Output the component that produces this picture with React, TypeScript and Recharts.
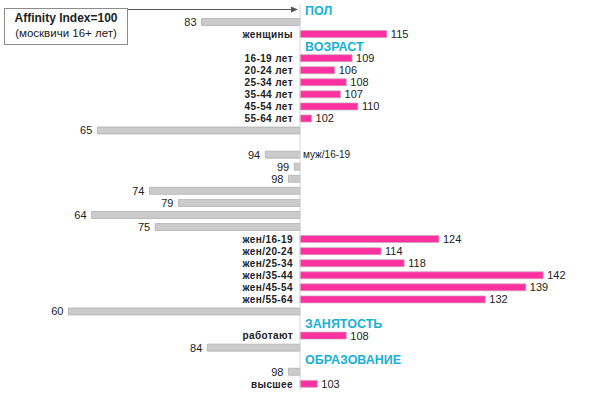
import { Bar, BarChart, Cell, LabelList, ReferenceLine, XAxis, YAxis } from 'recharts';

// one row per line of the chart, top to bottom; null = section header or blank row
const rowNames = [
  'ПОЛ', '', 'женщины',
  'ВОЗРАСТ', '16-19 лет', '20-24 лет', '25-34 лет', '35-44 лет', '45-54 лет', '55-64 лет', '', '',
  'муж/16-19', '', '', '', '', '', '',
  'жен/16-19', 'жен/20-24', 'жен/25-34', 'жен/35-44', 'жен/45-54', 'жен/55-64', '',
  'ЗАНЯТОСТЬ', 'работают', '',
  'ОБРАЗОВАНИЕ', '', 'высшее'
];

const affinity: (number | null)[] = [
  null, 83, 115,
  null, 109, 106, 108, 107, 110, 102, 65, null,
  94, 99, 98, 74, 79, 64, 75,
  124, 114, 118, 142, 139, 132, 60,
  null, 108, 84,
  null, 98, 103
];

const headers = ['ПОЛ', 'ВОЗРАСТ', 'ЗАНЯТОСТЬ', 'ОБРАЗОВАНИЕ'];

const BASE = 100;
const PINK = '#ff30a0';
const GRAY = '#cbcbcb';
const CYAN = '#17b1d3';
const FONT = 'Arial, "Liberation Sans", sans-serif';

const W = 600;
const H = 396;
const Y_AXIS_W = 1;
const MARGIN = { top: 4, right: 10.5, bottom: 6, left: 9.5 };
const DOMAIN: [number, number] = [-50, 50];
// x of the 100 line inside the svg
const PLOT_LEFT = MARGIN.left + Y_AXIS_W;
const PLOT_W = W - PLOT_LEFT - MARGIN.right;
const AXIS_X = PLOT_LEFT + (PLOT_W * (0 - DOMAIN[0])) / (DOMAIN[1] - DOMAIN[0]);

const chartData = rowNames.map((name, i) => ({
  id: i,
  name,
  value: affinity[i],
  delta: affinity[i] == null ? 0 : (affinity[i] as number) - BASE
}));

type LabelProps = {
  x?: number;
  y?: number;
  width?: number;
  height?: number;
  value?: number;
};

function ValueLabel(props: LabelProps) {
  const row = chartData[Number(props.value)];
  if (!row || row.value == null) return null;
  const x = Number(props.x) || 0;
  const w = Number(props.width) || 0;
  const left = Math.min(x, x + w);
  const right = Math.max(x, x + w);
  const cy = (Number(props.y) || 0) + (Number(props.height) || 0) / 2;
  const neg = row.delta < 0;
  return (
    <text
      x={neg ? left - 5 : right + 4}
      y={cy}
      dy="0.36em"
      textAnchor={neg ? 'end' : 'start'}
      fontFamily={FONT}
      fontSize={11}
      fill="#222"
    >
      {row.value}
    </text>
  );
}

function renderNameTick(props: any) {
  const y = Number(props.y) || 0;
  const row = chartData[Number(props.payload?.value)];
  if (!row || !row.name) return <g />;
  if (headers.includes(row.name)) {
    return (
      <text x={AXIS_X + 5} y={y} dy="0.36em" fontFamily={FONT} fontSize={12.5} fontWeight={700} fill={CYAN}>
        {row.name}
      </text>
    );
  }
  const neg = row.delta < 0;
  return (
    <text
      x={neg ? AXIS_X + 3 : AXIS_X - 7}
      y={y}
      dy="0.36em"
      textAnchor={neg ? 'start' : 'end'}
      fontFamily={FONT}
      fontSize={10}
      fontWeight={neg ? 400 : 700}
      letterSpacing={neg ? 0 : 0.4}
      fill="#222"
    >
      {row.name}
    </text>
  );
}

export default function App() {
  return (
    <div style={{ position: 'absolute', left: 0, top: 0, width: W, height: H, background: '#fff' }}>
      <BarChart width={W} height={H} layout="vertical" data={chartData} margin={MARGIN} barCategoryGap="20%">
        <XAxis type="number" domain={DOMAIN} hide />
        <YAxis
          type="category"
          dataKey="id"
          width={Y_AXIS_W}
          interval={0}
          axisLine={false}
          tickLine={false}
          tick={renderNameTick}
        />
        <ReferenceLine x={0} stroke="#d4d4d4" />
        <Bar dataKey="delta" isAnimationActive={false}>
          {chartData.map((row) => (
            <Cell
              key={row.id}
              fill={row.delta < 0 ? GRAY : PINK}
              stroke={row.delta < 0 ? '#a9a9a9' : '#c9a6b8'}
              strokeWidth={row.value == null ? 0 : 0.7}
            />
          ))}
          <LabelList dataKey="id" content={<ValueLabel />} />
        </Bar>
      </BarChart>

      <div
        style={{
          position: 'absolute',
          left: 4,
          top: 8,
          width: 122,
          height: 33,
          border: '1px solid #8c8c8c',
          background: '#fff',
          fontFamily: FONT,
          color: '#222',
          textAlign: 'center',
          lineHeight: '15px',
          paddingTop: 2
        }}
      >
        <div style={{ fontSize: 12, fontWeight: 700 }}>Affinity Index=100</div>
        <div style={{ fontSize: 11.5 }}>(москвичи 16+ лет)</div>
      </div>
      <svg style={{ position: 'absolute', left: 0, top: 0 }} width={W} height={20}>
        <line x1={128} y1={9.5} x2={294} y2={9.5} stroke="#555" strokeWidth={1} />
        <path d="M298,9.5 L291,6.5 L291,12.5 Z" fill="#555" />
      </svg>
    </div>
  );
}
